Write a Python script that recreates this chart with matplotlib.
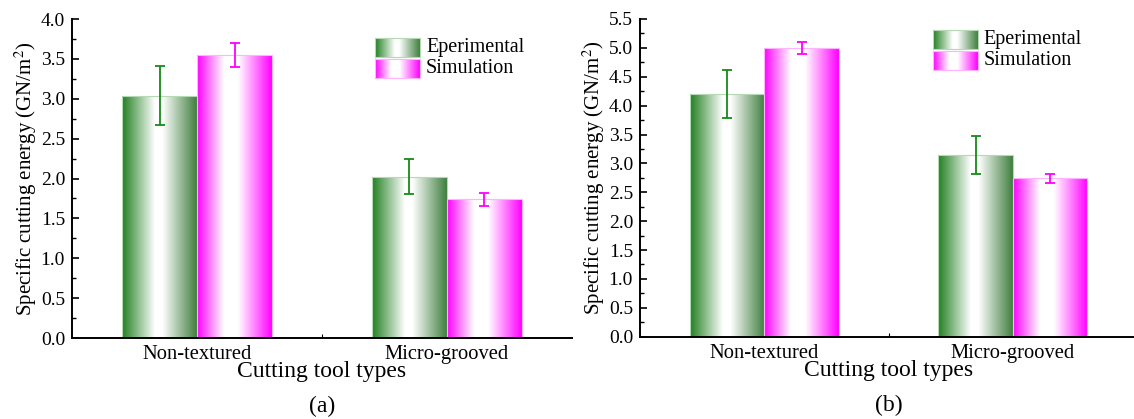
import numpy as np
import matplotlib
matplotlib.use("Agg")
import matplotlib.pyplot as plt
from matplotlib.colors import LinearSegmentedColormap
from matplotlib.ticker import MultipleLocator, FixedLocator

plt.rcParams["font.family"] = ["Liberation Serif", "DejaVu Serif"]
plt.rcParams["mathtext.fontset"] = "stix"

categories = ["Non-textured", "Micro-grooved"]
series_names = ["Eperimental", "Simulation"]

# panel (a)
exp_a = [3.04, 2.02]
exp_a_err = [0.37, 0.22]
sim_a = [3.55, 1.74]
sim_a_err = [0.15, 0.08]

# panel (b)
exp_b = [4.20, 3.14]
exp_b_err = [0.42, 0.33]
sim_b = [5.00, 2.74]
sim_b_err = [0.10, 0.075]

green = "#217f21"
green_r = "#3f7f3f"
magenta = "#ff00ff"

cmap_green = LinearSegmentedColormap.from_list(
    "g", [(0.0, green), (0.44, "white"), (0.54, "white"), (1.0, green_r)])
cmap_mag = LinearSegmentedColormap.from_list(
    "m", [(0.0, magenta), (0.36, "white"), (0.55, "white"), (1.0, magenta)])

grad = np.linspace(0, 1, 256).reshape(1, -1)


def gradient_bars(ax, xs, vals, width, cmap, edge):
    bars = ax.bar(xs, vals, width, facecolor="none", edgecolor=edge,
                  linewidth=0.8, zorder=2)
    for b in bars:
        x0, y0 = b.get_x(), b.get_y()
        im = ax.imshow(grad, cmap=cmap, aspect="auto", zorder=1,
                       extent=[x0, x0 + b.get_width(), y0, y0 + b.get_height()],
                       interpolation="bilinear")
        im.set_clip_path(b)
    return bars


def legend_patch(ax, rect, cmap, edge, label):
    iax = ax.inset_axes(rect)
    iax.imshow(grad, cmap=cmap, aspect="auto", interpolation="bilinear")
    iax.set_xticks([])
    iax.set_yticks([])
    for s in iax.spines.values():
        s.set_color(edge)
        s.set_linewidth(0.8)
    ax.text(rect[0] + rect[2] + 0.012, rect[1] + rect[3] / 2, label,
            transform=ax.transAxes, va="center", ha="left", fontsize=14.5)


def draw_panel(ax, exp, exp_err, sim, sim_err, ymax, tag, leg_x, leg_y):
    x = np.arange(1, len(categories) + 1)
    w = 0.3
    gradient_bars(ax, x - w / 2, exp, w, cmap_green, "#b5d8b5")
    gradient_bars(ax, x + w / 2, sim, w, cmap_mag, "#ffb3ff")
    ax.errorbar(x - w / 2, exp, yerr=exp_err, fmt="none", ecolor="#178a17",
                elinewidth=1.3, capsize=3.5, capthick=1.3, zorder=3)
    ax.errorbar(x + w / 2, sim, yerr=sim_err, fmt="none", ecolor=magenta,
                elinewidth=1.3, capsize=3.5, capthick=1.3, zorder=3)

    ax.set_xlim(0.5, 2.5)
    ax.set_ylim(0, ymax)
    ax.set_xticks(x)
    ax.set_xticklabels(categories)
    ax.xaxis.set_minor_locator(FixedLocator([1.5]))
    ax.yaxis.set_major_locator(MultipleLocator(0.5))
    ax.yaxis.set_minor_locator(MultipleLocator(0.25))
    ax.set_yticklabels([f"{v:.1f}" for v in ax.get_yticks()])
    ax.tick_params(axis="y", which="major", direction="in", length=5,
                   width=1.2, labelsize=14, pad=5)
    ax.tick_params(axis="y", which="minor", direction="in", length=3, width=1.0)
    ax.tick_params(axis="x", which="major", length=0, labelsize=14.8, pad=5)
    ax.tick_params(axis="x", which="minor", direction="in", length=3, width=0.8)
    for s in ["top", "right"]:
        ax.spines[s].set_visible(False)
    ax.spines["left"].set_linewidth(1.4)
    ax.spines["bottom"].set_linewidth(1.4)
    ax.spines["bottom"].set_bounds(0.5, 2.5)
    ax.set_xlabel("Cutting tool types", fontsize=17, labelpad=-2)
    ax.set_ylabel("Specific cutting energy (GN/m$^{2}$)", fontsize=15,
                  labelpad=1)
    ax.text(0.5, -0.216, tag, transform=ax.transAxes, ha="center",
            va="center", fontsize=17)

    legend_patch(ax, [leg_x, leg_y, 0.09, 0.06], cmap_green, "#b5d8b5",
                 series_names[0])
    legend_patch(ax, [leg_x, leg_y - 0.067, 0.09, 0.06], cmap_mag, "#ffb3ff",
                 series_names[1])


fig = plt.figure(figsize=(11.34, 4.19), dpi=100)
ax1 = fig.add_axes([0.0635, 0.1933, 0.4409, 0.7613])
ax2 = fig.add_axes([0.5644, 0.1964, 0.4383, 0.7583])

draw_panel(ax1, exp_a, exp_a_err, sim_a, sim_a_err, 4.0, "(a)", 0.606, 0.882)
draw_panel(ax2, exp_b, exp_b_err, sim_b, sim_b_err, 5.5, "(b)", 0.589, 0.906)

fig.savefig("out.png", dpi=100)
